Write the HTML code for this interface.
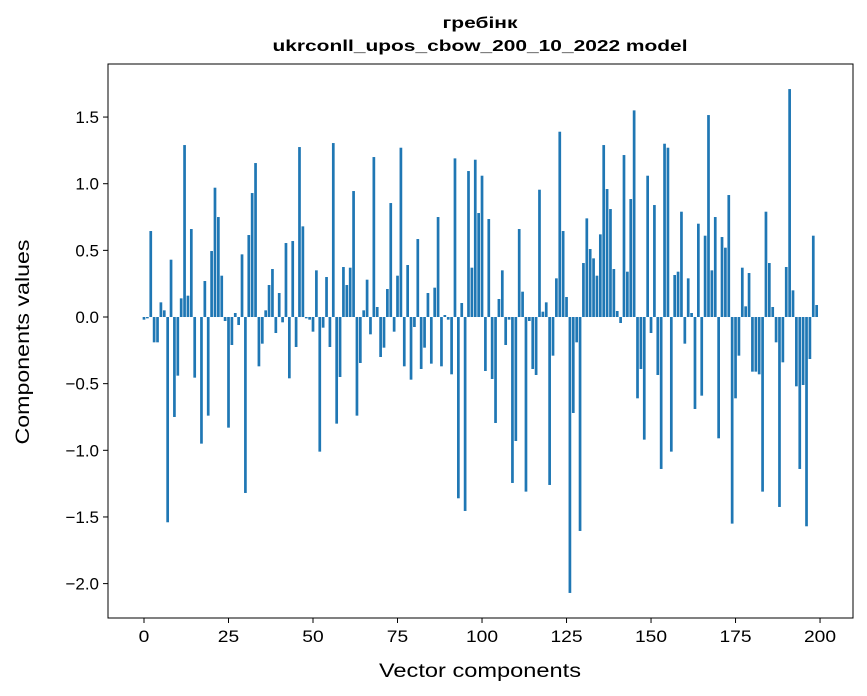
<!DOCTYPE html>
<html><head><meta charset="utf-8"><style>
body{margin:0;background:#fff;}
svg{display:block;font-family:"Liberation Sans","DejaVu Sans",sans-serif;}
</style></head><body>
<svg id="chart" width="867" height="696" viewBox="0 0 867 696">
<rect width="867" height="696" fill="#fff"/>
<text x="480" y="28" text-anchor="middle" font-size="16" font-weight="bold" textLength="75" lengthAdjust="spacingAndGlyphs">гребінк</text>
<text x="480" y="51" text-anchor="middle" font-size="16" font-weight="bold" textLength="415" lengthAdjust="spacingAndGlyphs">ukrconll_upos_cbow_200_10_2022 model</text>
<g id="bars"></g>
<g id="axes"></g>
<rect x="108" y="64" width="745" height="554" fill="none" stroke="#000" stroke-width="1"/>
<text x="480" y="677" text-anchor="middle" font-size="19" textLength="202" lengthAdjust="spacingAndGlyphs">Vector components</text>
<text transform="translate(29,342) rotate(-90)" text-anchor="middle" font-size="19" textLength="205" lengthAdjust="spacingAndGlyphs">Components values</text>
</svg>
<script>
const values = [-0.02,-0.01,0.645,-0.19,-0.19,0.11,0.05,-1.54,0.43,-0.75,
-0.44,0.14,1.29,0.16,0.66,-0.455,0.0,-0.95,0.27,-0.74,
0.495,0.97,0.75,0.31,-0.03,-0.83,-0.21,0.03,-0.06,0.47,
-1.32,0.615,0.93,1.155,-0.37,-0.2,0.05,0.24,0.36,-0.12,
0.18,-0.04,0.555,-0.46,0.57,-0.225,1.275,0.68,-0.01,-0.02,
-0.11,0.35,-1.01,-0.08,0.3,-0.225,1.305,-0.8,-0.45,0.375,
0.24,0.37,0.945,-0.74,-0.345,0.05,0.28,-0.13,1.2,0.075,
-0.3,-0.23,0.21,0.855,-0.11,0.31,1.27,-0.37,0.39,-0.47,
-0.075,0.585,-0.39,-0.23,0.18,-0.35,0.22,0.75,-0.37,0.015,
-0.02,-0.43,1.19,-1.36,0.105,-1.455,1.095,0.37,1.18,0.78,
1.06,-0.405,0.735,-0.465,-0.795,0.135,0.35,-0.21,-0.02,-1.245,
-0.93,0.66,0.19,-1.31,-0.03,-0.39,-0.435,0.955,0.04,0.11,
-1.26,-0.29,0.29,1.39,0.645,0.15,-2.07,-0.72,-0.19,-1.605,
0.405,0.74,0.51,0.44,0.31,0.62,1.29,0.96,0.81,0.36,
0.045,-0.045,1.215,0.34,0.885,1.55,-0.61,-0.39,-0.92,1.06,
-0.12,0.84,-0.435,-1.14,1.3,1.27,-1.01,0.315,0.34,0.79,
-0.2,0.29,0.03,-0.69,0.7,-0.59,0.61,1.515,0.35,0.75,
-0.91,0.6,0.52,0.915,-1.55,-0.61,-0.29,0.37,0.08,0.33,
-0.41,-0.41,-0.43,-1.31,0.79,0.405,0.075,-0.19,-1.425,-0.34,
0.375,1.71,0.2,-0.52,-1.14,-0.51,-1.57,-0.315,0.61,0.09];
const xTicks = [0,25,50,75,100,125,150,175,200];
const yTicks = [-2.0,-1.5,-1.0,-0.5,0.0,0.5,1.0,1.5];
const yTickLabels = ["−2.0","−1.5","−1.0","−0.5","0.0","0.5","1.0","1.5"];

const NS="http://www.w3.org/2000/svg";
const X0=108,X1=853,Y0=64,Y1=618;
const xMin=-10.65,xMax=209.75,yMin=-2.258,yMax=1.898;
function xs(v){return X0+(v-xMin)/(xMax-xMin)*(X1-X0);}
function ys(v){return Y1-(v-yMin)/(yMax-yMin)*(Y1-Y0);}
const bars=document.getElementById('bars');
values.forEach((v,i)=>{
  const r=document.createElementNS(NS,'rect');
  const x=xs(i-0.4), w=xs(i+0.4)-x;
  const y=Math.min(ys(v),ys(0)), h=Math.abs(ys(v)-ys(0));
  r.setAttribute('x',x);r.setAttribute('y',y);r.setAttribute('width',w);r.setAttribute('height',h);
  r.setAttribute('fill','#1f77b4');
  
  
  bars.appendChild(r);
});
const axes=document.getElementById('axes');
xTicks.forEach(t=>{
  const x=xs(t);
  const l=document.createElementNS(NS,'line');
  l.setAttribute('x1',x);l.setAttribute('x2',x);l.setAttribute('y1',Y1);l.setAttribute('y2',Y1+5);l.setAttribute('stroke','#000');
  
  
  axes.appendChild(l);
  const tx=document.createElementNS(NS,'text');
  tx.setAttribute('x',x);tx.setAttribute('y',Y1+24);tx.setAttribute('text-anchor','middle');tx.setAttribute('font-size','17');
  tx.setAttribute('textLength',String(t).length*10.7);tx.setAttribute('lengthAdjust','spacingAndGlyphs');
  tx.textContent=t;
  
  
  axes.appendChild(tx);
});
yTicks.forEach((t,k)=>{
  const y=ys(t);
  const l=document.createElementNS(NS,'line');
  l.setAttribute('x1',X0-5);l.setAttribute('x2',X0);l.setAttribute('y1',y);l.setAttribute('y2',y);l.setAttribute('stroke','#000');
  
  
  axes.appendChild(l);
  const tx=document.createElementNS(NS,'text');
  tx.setAttribute('x',X0-9);tx.setAttribute('y',y+6);tx.setAttribute('text-anchor','end');tx.setAttribute('font-size','17');
  tx.textContent=yTickLabels[k];
  
  
  axes.appendChild(tx);
});
</script>
</body></html>
